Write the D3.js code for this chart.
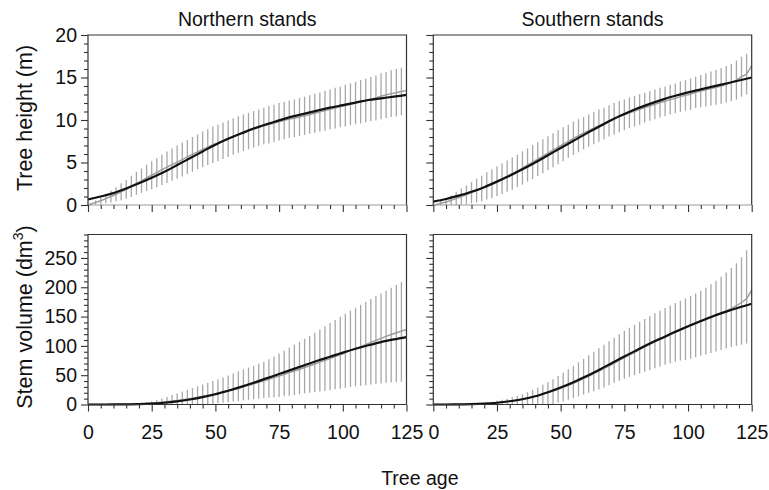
<!DOCTYPE html>
<html>
<head>
<meta charset="utf-8">
<script src="https://cdn.jsdelivr.net/npm/d3@7"></script>
<style>
  body { margin: 0; background: #fff; }
  svg { display: block; font-family: "Liberation Sans", Arial, sans-serif; }
</style>
</head>
<body>
<div class="main-container"></div>
<script>
// ages of the observed means / bars (bars at odd ages)
const ages = [
  0, 1, 3, 5, 7, 9, 11, 13,
  15, 17, 19, 21, 23, 25, 27, 29,
  31, 33, 35, 37, 39, 41, 43, 45,
  47, 49, 51, 53, 55, 57, 59, 61,
  63, 65, 67, 69, 71, 73, 75, 77,
  79, 81, 83, 85, 87, 89, 91, 93,
  95, 97, 99, 101, 103, 105, 107, 109,
  111, 113, 115, 117, 119, 121, 123, 125];
// ages of the fitted model curve
const fitAges = [0, 5, 10, 15, 20, 25, 30, 35, 40, 45, 50, 55, 60, 65, 70, 75, 80, 85, 90, 95, 100, 105, 110, 115, 120, 125];

const xMajor = [0, 25, 50, 75, 100, 125];
const xMinor = [5, 10, 15, 20, 30, 35, 40, 45, 55, 60, 65, 70, 80, 85, 90, 95, 105, 110, 115, 120];
const heightMajor = [0, 5, 10, 15, 20];
const heightMinor = [1, 2, 3, 4, 6, 7, 8, 9, 11, 12, 13, 14, 16, 17, 18, 19];
const volumeMajor = [0, 50, 100, 150, 200, 250];
const volumeMinor = [10, 20, 30, 40, 60, 70, 80, 90, 110, 120, 130, 140, 160, 170, 180, 190, 210, 220, 230, 240, 260, 270, 280, 290];

const columnTitles = ["Northern stands", "Southern stands"];

// Northern stands, tree height (m)
const northHeightFit = [0.65, 1.0, 1.4, 1.95, 2.55, 3.2, 3.9, 4.7, 5.5, 6.3, 7.1, 7.8, 8.4, 9.0, 9.5, 9.95, 10.4, 10.75, 11.1, 11.45, 11.75, 12.05, 12.35, 12.55, 12.75, 12.95];
const northHeightMean = [
  0, 0.1, 0.3, 0.5, 0.75, 1.0, 1.25, 1.55,
  1.85, 2.2, 2.55, 2.85, 3.2, 3.5, 3.8, 4.15,
  4.45, 4.75, 5.05, 5.35, 5.65, 5.95, 6.25, 6.55,
  6.8, 7.1, 7.3, 7.55, 7.8, 8.05, 8.3, 8.5,
  8.7, 8.9, 9.1, 9.3, 9.45, 9.6, 9.8, 9.95,
  10.1, 10.2, 10.35, 10.5, 10.65, 10.8, 10.95, 11.1,
  11.25, 11.4, 11.55, 11.7, 11.85, 12.0, 12.15, 12.3,
  12.45, 12.6, 12.8, 12.95, 13.1, 13.2, 13.35, 13.45];
const northHeightLow = [
  0, 0, 0.05, 0.1, 0.2, 0.3, 0.4, 0.55,
  0.75, 0.95, 1.2, 1.4, 1.65, 1.85, 2.1, 2.35,
  2.6, 2.85, 3.1, 3.35, 3.65, 3.9, 4.2, 4.45,
  4.7, 4.95, 5.15, 5.4, 5.65, 5.9, 6.15, 6.35,
  6.55, 6.75, 6.95, 7.15, 7.25, 7.4, 7.6, 7.75,
  7.9, 8.0, 8.1, 8.25, 8.4, 8.5, 8.65, 8.75,
  8.9, 9.0, 9.15, 9.25, 9.4, 9.5, 9.6, 9.75,
  9.85, 9.95, 10.1, 10.25, 10.35, 10.4, 10.55, null];
const northHeightHigh = [
  0, 0.2, 0.55, 0.9, 1.3, 1.7, 2.1, 2.55,
  2.95, 3.45, 3.9, 4.3, 4.75, 5.15, 5.5, 5.95,
  6.3, 6.65, 7.0, 7.35, 7.65, 8.0, 8.3, 8.65,
  8.9, 9.25, 9.45, 9.7, 9.95, 10.2, 10.45, 10.65,
  10.85, 11.05, 11.25, 11.45, 11.65, 11.8, 12.0, 12.15,
  12.3, 12.4, 12.6, 12.75, 12.9, 13.1, 13.25, 13.45,
  13.6, 13.8, 13.95, 14.15, 14.3, 14.5, 14.7, 14.85,
  15.05, 15.25, 15.5, 15.65, 15.85, 16.0, 16.15, null];

// Southern stands, tree height (m)
const southHeightFit = [0.4, 0.7, 1.1, 1.55, 2.1, 2.75, 3.45, 4.2, 5.0, 5.85, 6.7, 7.55, 8.4, 9.2, 10.0, 10.7, 11.35, 11.9, 12.4, 12.85, 13.25, 13.6, 13.95, 14.3, 14.65, 15.0];
const southHeightMean = [
  0, 0.05, 0.2, 0.35, 0.55, 0.75, 1.0, 1.2,
  1.45, 1.7, 1.95, 2.25, 2.5, 2.8, 3.1, 3.4,
  3.7, 4.0, 4.35, 4.7, 5.05, 5.4, 5.75, 6.1,
  6.45, 6.8, 7.15, 7.5, 7.85, 8.15, 8.45, 8.75,
  9.05, 9.35, 9.6, 9.9, 10.15, 10.4, 10.6, 10.85,
  11.05, 11.25, 11.45, 11.65, 11.85, 12.05, 12.2, 12.4,
  12.55, 12.75, 12.9, 13.05, 13.25, 13.4, 13.55, 13.7,
  13.85, 14.0, 14.2, 14.4, 14.7, 15.1, 15.4, 16.4];
const southHeightLow = [
  0, 0, 0, 0, 0, 0, 0.05, 0.1,
  0.2, 0.3, 0.45, 0.65, 0.8, 1.05, 1.3, 1.55,
  1.8, 2.1, 2.4, 2.75, 3.05, 3.4, 3.75, 4.1,
  4.45, 4.8, 5.15, 5.55, 5.9, 6.2, 6.55, 6.85,
  7.15, 7.45, 7.75, 8.05, 8.3, 8.55, 8.8, 9.05,
  9.25, 9.45, 9.7, 9.9, 10.1, 10.3, 10.45, 10.65,
  10.8, 10.95, 11.1, 11.2, 11.4, 11.5, 11.6, 11.7,
  11.8, 11.9, 12.05, 12.2, 12.4, 12.75, 13.0, null];
const southHeightHigh = [
  0, 0.15, 0.5, 0.8, 1.15, 1.55, 1.95, 2.3,
  2.7, 3.1, 3.45, 3.85, 4.2, 4.55, 4.9, 5.25,
  5.6, 5.9, 6.3, 6.65, 7.05, 7.4, 7.75, 8.1,
  8.45, 8.8, 9.15, 9.45, 9.8, 10.1, 10.35, 10.65,
  10.95, 11.25, 11.45, 11.75, 12.0, 12.25, 12.4, 12.65,
  12.85, 13.05, 13.2, 13.4, 13.6, 13.8, 13.95, 14.15,
  14.3, 14.55, 14.7, 14.9, 15.1, 15.3, 15.5, 15.7,
  15.9, 16.1, 16.35, 16.6, 17.0, 17.45, 17.8, null];

// Northern stands, stem volume (dm3)
const northVolumeFit = [0, 0, 0.1, 0.3, 0.8, 1.6, 3.0, 5.3, 8.5, 12.5, 17.5, 23.5, 30, 37, 44.5, 52, 59.5, 67, 74.5, 81.5, 88.5, 95, 101, 106.5, 111, 115];
const northVolumeMean = [
  0, 0, 0, 0, 0.1, 0.1, 0.2, 0.3,
  0.5, 0.7, 1.0, 1.4, 1.9, 2.5, 3.2, 4.0,
  4.9, 5.9, 7.0, 8.2, 9.5, 10.9, 12.4, 14.0,
  15.7, 17.5, 19.3, 21.1, 23.0, 25.3, 27.6, 30.0,
  32.5, 35.0, 37.7, 40.4, 43.1, 45.8, 48.6, 51.4,
  54.3, 57.2, 60.1, 63.1, 66.1, 69.1, 72.2, 75.3,
  78.4, 81.6, 84.9, 88.3, 91.8, 95.3, 98.8, 102.3,
  105.8, 109.3, 112.8, 116.2, 119.4, 122.4, 125.2, 128];
const northVolumeLow = [
  0, 0, 0, 0, 0, 0, 0, 0,
  0, 0, 0, 0, 0, 0, 0, 0,
  0, 0, 0, 0, 0, 0, 0, 0,
  0.5, 1, 2, 3, 4, 5, 6, 7,
  8, 9, 10, 11, 12, 12.5, 13, 14,
  15, 16, 17.5, 19, 20, 21, 22, 23,
  24.5, 26, 27, 28.5, 30, 31, 32, 33,
  34, 35, 36, 37, 37.5, 38, 39, null];
const northVolumeHigh = [
  0, 0, 0, 0, 0.1, 0.2, 0.4, 0.6,
  1.0, 1.5, 2.2, 3.0, 4.0, 5.0, 7.5, 10.0,
  13.0, 16.0, 19.0, 22.0, 25.0, 28.0, 31.0, 34.0,
  37.0, 40.0, 43.0, 46.0, 49.5, 53.0, 56.5, 60.0,
  63.0, 66.0, 69.5, 73.0, 77.0, 82.0, 87.0, 92.0,
  97.0, 102.0, 107.0, 112.0, 117.0, 122.5, 128.0, 133.5,
  139.0, 144.0, 149.5, 155.0, 160.0, 165.0, 170.0, 175.0,
  180.0, 185.0, 189.5, 194.0, 199.0, 204.0, 209.0, null];

// Southern stands, stem volume (dm3)
const southVolumeFit = [0, 0, 0.2, 0.6, 1.5, 3.0, 5.5, 9.0, 14, 21, 29, 38, 48, 59, 70.5, 82, 93, 104, 114, 124, 133.5, 142.5, 151, 158.5, 165.5, 172];
const southVolumeMean = [
  0, 0, 0, 0, 0, 0.1, 0.2, 0.4,
  0.6, 0.9, 1.3, 1.8, 2.4, 3.1, 4.0, 5.0,
  6.2, 7.6, 9.2, 11.0, 13.0, 15.2, 17.6, 20.2,
  23.0, 26.0, 29.2, 32.6, 36.2, 40.0, 44.0, 48.2,
  52.5, 56.9, 61.4, 66.0, 70.6, 75.2, 79.8, 84.4,
  89.0, 93.6, 98.2, 102.6, 106.8, 111.0, 115.0, 119.0,
  122.8, 126.6, 130.3, 134.0, 137.6, 141.2, 144.8, 148.4,
  152.0, 155.8, 159.8, 164.0, 168.5, 174.0, 180.5, 195];
const southVolumeLow = [
  0, 0, 0, 0, 0, 0, 0, 0,
  0, 0, 0, 0, 0, 0, 0, 0,
  0, 0, 0, 0, 0, 0, 0, 0,
  1, 3, 5, 8, 11, 14, 17, 20,
  22.5, 25.5, 29, 33, 37, 40.5, 44, 47,
  50, 53, 56, 59, 62, 65, 68, 70.5,
  73, 75, 76, 78, 80.5, 83, 85.5, 88,
  90.5, 93, 95.5, 98, 100, 102, 104, null];
const southVolumeHigh = [
  0, 0, 0, 0, 0.1, 0.2, 0.4, 0.7,
  1.1, 1.7, 2.5, 3.5, 4.8, 6.3, 8.0, 10.0,
  12.2, 14.6, 17.5, 21.0, 25.0, 29.0, 33.5, 38.0,
  43.0, 48.5, 54.0, 60.0, 66.0, 72.0, 78.0, 84.0,
  90.0, 96.0, 102.0, 108.0, 114.0, 120.0, 126.0, 131.0,
  136.0, 141.0, 146.0, 151.0, 155.5, 160.0, 164.5, 169.0,
  173.0, 177.0, 181.0, 185.0, 189.5, 194.0, 199.0, 205.0,
  211.0, 218.0, 225.0, 233.0, 241.0, 251.0, 263.0, null];

const W = 769, H = 490;
const FONT = 19.5;
const LABEL_FONT = 21.5;
const colX = [[88, 406.5], [433.3, 751.7]];
const rowY = [[205, 35], [404.5, 234.5]];

const rows = [
  { domain: [0, 20], major: heightMajor, minor: heightMinor, zeroLine: "#9a9a9a" },
  { domain: [0, 290], major: volumeMajor, minor: volumeMinor, zeroLine: "#333" },
];
const panels = [
  { row: 0, col: 0, fit: northHeightFit, mean: northHeightMean, lo: northHeightLow, hi: northHeightHigh },
  { row: 0, col: 1, fit: southHeightFit, mean: southHeightMean, lo: southHeightLow, hi: southHeightHigh },
  { row: 1, col: 0, fit: northVolumeFit, mean: northVolumeMean, lo: northVolumeLow, hi: northVolumeHigh },
  { row: 1, col: 1, fit: southVolumeFit, mean: southVolumeMean, lo: southVolumeLow, hi: southVolumeHigh },
];

const root = d3.select(".main-container");
const svg = root.append("svg").attr("width", W).attr("height", H);
svg.append("rect").attr("width", W).attr("height", H).attr("fill", "#fff");

for (const p of panels) {
  const r = rows[p.row];
  const x = d3.scaleLinear().domain([0, 125]).range(colX[p.col]);
  const y = d3.scaleLinear().domain(r.domain).range(rowY[p.row]).clamp(true);
  const g = svg.append("g");

  // range bars
  const bars = ages.map((a, i) => ({ a, lo: p.lo[i], hi: p.hi[i] }))
    .filter(d => d.hi != null && d.hi > d.lo);
  g.append("g").selectAll("line").data(bars).join("line")
    .attr("x1", d => x(d.a)).attr("x2", d => x(d.a))
    .attr("y1", d => y(d.lo)).attr("y2", d => y(d.hi))
    .attr("stroke", "#a8a8a8").attr("stroke-width", 1.3);

  // observed mean
  g.append("path")
    .datum(ages.map((a, i) => [a, p.mean[i]]))
    .attr("d", d3.line().x(d => x(d[0])).y(d => y(d[1])))
    .attr("fill", "none").attr("stroke", "#9a9a9a").attr("stroke-width", 1.4);

  // fitted curve
  g.append("path")
    .datum(fitAges.map((a, i) => [a, p.fit[i]]))
    .attr("d", d3.line().curve(d3.curveMonotoneX).x(d => x(d[0])).y(d => y(d[1])))
    .attr("fill", "none").attr("stroke", "#111").attr("stroke-width", 2.2);

  // frame
  const [x0, x1] = colX[p.col];
  const [yb, yt] = rowY[p.row];
  g.append("path")
    .attr("d", `M${x0},${yb}V${yt}H${x1}V${yb}`)
    .attr("fill", "none").attr("stroke", "#333").attr("stroke-width", 1.2);
  g.append("line").attr("x1", x0).attr("x2", x1).attr("y1", yb).attr("y2", yb)
    .attr("stroke", r.zeroLine).attr("stroke-width", 1.2);

  // x ticks
  g.append("g").attr("transform", `translate(0,${yb})`)
    .call(d3.axisBottom(x).tickValues(xMajor).tickSize(7).tickSizeOuter(0).tickPadding(14)
      .tickFormat(p.row === 1 ? d3.format("d") : () => ""));
  g.append("g").attr("transform", `translate(0,${yb})`)
    .call(d3.axisBottom(x).tickValues(xMinor).tickSize(4).tickSizeOuter(0).tickFormat(() => ""));

  // y ticks
  g.append("g").attr("transform", `translate(${x0},0)`)
    .call(d3.axisLeft(y).tickValues(r.major).tickSize(7).tickSizeOuter(0).tickPadding(4)
      .tickFormat(p.col === 0 ? d3.format("d") : () => ""));
  g.append("g").attr("transform", `translate(${x0},0)`)
    .call(d3.axisLeft(y).tickValues(r.minor).tickSize(4).tickSizeOuter(0).tickFormat(() => ""));

  g.selectAll(".domain").remove();
  g.selectAll(".tick line").attr("stroke", "#333").attr("stroke-width", 1.1);
  g.selectAll(".tick text").attr("font-size", FONT).attr("fill", "#111")
    .attr("font-family", "Liberation Sans, Arial, sans-serif");
}

// column titles
columnTitles.forEach((t, i) => {
  svg.append("text")
    .attr("x", (colX[i][0] + colX[i][1]) / 2).attr("y", 26)
    .attr("text-anchor", "middle").attr("font-size", FONT).attr("fill", "#111")
    .text(t);
});

// axis titles
svg.append("text")
  .attr("x", (colX[0][0] + colX[1][1]) / 2).attr("y", 485)
  .attr("text-anchor", "middle").attr("font-size", FONT).attr("fill", "#111")
  .text("Tree age");

svg.append("text")
  .attr("transform", `translate(32,118) rotate(-90)`)
  .attr("text-anchor", "middle").attr("font-size", LABEL_FONT).attr("fill", "#111")
  .text("Tree height (m)");

const vol = svg.append("text")
  .attr("transform", `translate(32,317) rotate(-90)`)
  .attr("text-anchor", "middle").attr("font-size", LABEL_FONT).attr("fill", "#111");
vol.append("tspan").text("Stem volume (dm");
vol.append("tspan").attr("font-size", 14).attr("dy", -9).text("3");
vol.append("tspan").attr("dy", 9).text(")");
</script>
</body>
</html>
